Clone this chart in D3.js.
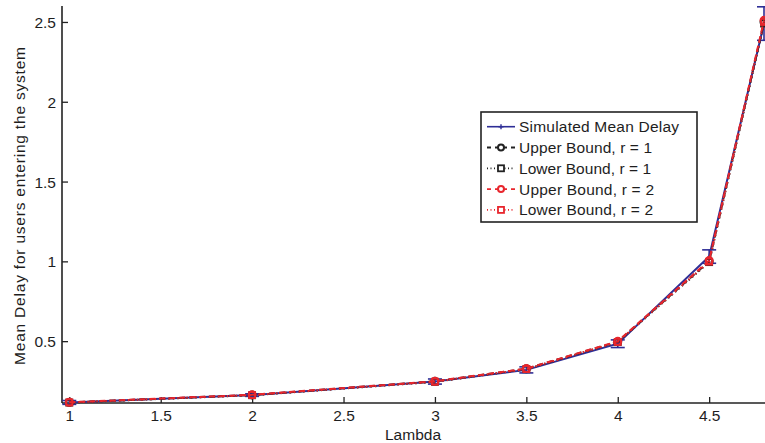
<!DOCTYPE html>
<html>
<head>
<meta charset="utf-8">
<script src="https://cdn.jsdelivr.net/npm/d3@7"></script>
<style>
  body { margin: 0; background: #fff; }
  text { font-family: "Liberation Sans", Arial, sans-serif; fill: #1e1e1e; }
</style>
</head>
<body>
<svg></svg>
<script>
const WIDTH = 765, HEIGHT = 443;

// data
const lambdas = [1, 2, 3, 3.5, 4, 4.5, 4.8];
const simMean = [0.116, 0.162, 0.247, 0.32, 0.484, 1.03, 2.49];
const simErr = [0.012, 0.008, 0.016, 0.019, 0.024, 0.042, 0.105];
const upperR1 = [0.116, 0.163, 0.248, 0.327, 0.497, 1.0, 2.5];
const lowerR1 = [0.115, 0.161, 0.245, 0.324, 0.494, 0.995, 2.49];
const upperR2 = [0.117, 0.164, 0.249, 0.328, 0.499, 1.005, 2.51];
const lowerR2 = [0.116, 0.162, 0.246, 0.325, 0.495, 0.998, 2.5];
const xTicks = [1, 1.5, 2, 2.5, 3, 3.5, 4, 4.5];
const yTicks = [0.5, 1, 1.5, 2, 2.5];
const legendNames = ['Simulated Mean Delay', 'Upper Bound, r = 1', 'Lower Bound, r = 1', 'Upper Bound, r = 2', 'Lower Bound, r = 2'];
const legendWidths = [160, 133, 132, 135, 134];

const BLUE = '#2e2e96', RED = '#e8262d', BLACK = '#222';

let svg = d3.select('svg')
    .attr('width', WIDTH)
    .attr('height', HEIGHT);

let x = d3.scaleLinear().domain([0.96, 4.8]).range([62, 764]);
let y = d3.scaleLinear().domain([0.1125, 2.6]).range([403, 6]);

// axes (MATLAB-like, ticks inside)
let xAxis = svg.append('g')
    .attr('transform', `translate(0,${y.range()[0]})`)
    .call(d3.axisBottom(x).tickValues(xTicks).tickSize(-6).tickPadding(13).tickFormat(d3.format('')));
let yAxis = svg.append('g')
    .attr('transform', `translate(${x.range()[0]},0)`)
    .call(d3.axisLeft(y).tickValues(yTicks).tickSize(-6).tickPadding(6).tickFormat(d3.format('')));
for (const ax of [xAxis, yAxis]) {
    ax.select('.domain').attr('stroke', BLACK).attr('stroke-width', 1.6).attr('d',
        ax === xAxis ? `M${x.range()[0]},0H${WIDTH + 5}` : `M0,${y.range()[0]}V${y.range()[1]}`);
    ax.selectAll('.tick line').attr('stroke', BLACK).attr('stroke-width', 1.3);
    ax.selectAll('.tick text').style('font-size', '15.5px').attr('fill', '#1e1e1e');
}
yAxis.selectAll('.tick text').attr('dy', '0.36em');
xAxis.selectAll('.tick text').attr('dy', '0.71em').attr('y', 7);

svg.append('text')
    .attr('x', 413).attr('y', 440)
    .attr('text-anchor', 'middle')
    .style('font-size', '15.5px')
    .text('Lambda');
svg.append('text')
    .attr('transform', 'translate(25,206) rotate(-90)')
    .attr('text-anchor', 'middle')
    .style('font-size', '15.5px')
    .attr('textLength', 318)
    .text('Mean Delay for users entering the system');

let plot = svg.append('g');
let line = d3.line().x((d) => x(d[0])).y((d) => y(d[1]));

function series(vals){
    return lambdas.map((l, i) => [l, vals[i]]);
}

// simulated mean with error bars
plot.append('path')
    .attr('d', line(series(simMean)))
    .attr('fill', 'none').attr('stroke', BLUE).attr('stroke-width', 2);
let eb = plot.append('g').selectAll('g')
    .data(lambdas.map((l, i) => ({ l: l, m: simMean[i], e: simErr[i] })))
    .enter().append('g').attr('stroke', BLUE).attr('stroke-width', 1.6);
eb.append('line')
    .attr('x1', (d) => x(d.l)).attr('x2', (d) => x(d.l))
    .attr('y1', (d) => y(d.m - d.e)).attr('y2', (d) => y(d.m + d.e));
eb.append('line')
    .attr('x1', (d) => x(d.l) - 7).attr('x2', (d) => x(d.l) + 7)
    .attr('y1', (d) => y(d.m - d.e)).attr('y2', (d) => y(d.m - d.e));
eb.append('line')
    .attr('x1', (d) => x(d.l) - 7).attr('x2', (d) => x(d.l) + 7)
    .attr('y1', (d) => y(d.m + d.e)).attr('y2', (d) => y(d.m + d.e));

// bound lines
const bounds = [
    { vals: upperR1, color: BLACK, dash: '6,4', mark: 'circle' },
    { vals: lowerR1, color: BLACK, dash: '1.5,3', mark: 'square' },
    { vals: upperR2, color: RED, dash: '6,4', mark: 'circle' },
    { vals: lowerR2, color: RED, dash: '1.5,3', mark: 'square' }
];
for (const b of bounds) {
    plot.append('path')
        .attr('d', line(series(b.vals)))
        .attr('fill', 'none').attr('stroke', b.color)
        .attr('stroke-width', 2).attr('stroke-dasharray', b.dash);
    let pts = plot.append('g').selectAll('.m')
        .data(series(b.vals))
        .enter();
    if (b.mark === 'circle') {
        pts.append('circle')
            .attr('cx', (d) => x(d[0])).attr('cy', (d) => y(d[1])).attr('r', 3.5)
            .attr('fill', 'none').attr('stroke', b.color).attr('stroke-width', 2);
    } else {
        pts.append('rect')
            .attr('x', (d) => x(d[0]) - 3).attr('y', (d) => y(d[1]) - 3)
            .attr('width', 6).attr('height', 6)
            .attr('fill', 'none').attr('stroke', b.color).attr('stroke-width', 1.8);
    }
}

// legend
let lg = svg.append('g');
lg.append('rect')
    .attr('x', 481).attr('y', 112).attr('width', 216).attr('height', 110)
    .attr('fill', '#fff').attr('stroke', BLACK).attr('stroke-width', 1.6);
const legendStyle = [
    { color: BLUE, dash: null, mark: 'plus' },
    { color: BLACK, dash: '4,4', mark: 'circle' },
    { color: BLACK, dash: '1,2.5', mark: 'square' },
    { color: RED, dash: '4,4', mark: 'circle' },
    { color: RED, dash: '1,2.5', mark: 'square' }
];
legendNames.forEach((name, i) => {
    const cy = 126.7 + i * 20.8;
    const s = legendStyle[i];
    lg.append('line')
        .attr('x1', 487).attr('x2', 515).attr('y1', cy).attr('y2', cy)
        .attr('stroke', s.color).attr('stroke-width', s.dash ? 1.8 : 1.6)
        .attr('stroke-dasharray', s.dash);
    if (s.mark === 'plus') {
        lg.append('path').attr('d', `M${501 - 2.5},${cy}h5M501,${cy - 2.5}v5`)
            .attr('stroke', s.color).attr('stroke-width', 1.4);
    } else if (s.mark === 'circle') {
        lg.append('circle').attr('cx', 501).attr('cy', cy).attr('r', 3)
            .attr('fill', '#fff').attr('stroke', s.color).attr('stroke-width', 2);
    } else {
        lg.append('rect').attr('x', 498).attr('y', cy - 3).attr('width', 6).attr('height', 6)
            .attr('fill', '#fff').attr('stroke', s.color).attr('stroke-width', 1.8);
    }
    lg.append('text')
        .attr('x', 519).attr('y', cy).attr('dy', '0.36em')
        .style('font-size', '15.5px')
        .attr('textLength', legendWidths[i])
        .text(name);
});
</script>
</body>
</html>
